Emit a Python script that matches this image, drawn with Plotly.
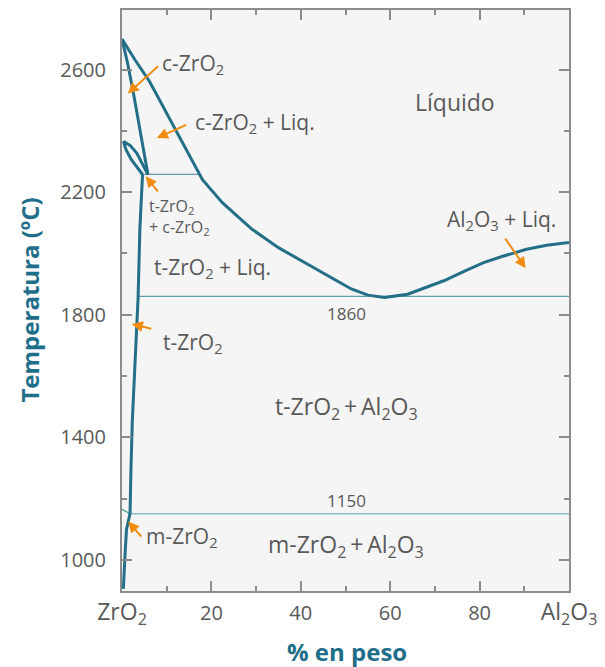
import plotly.graph_objects as go

# ---- data (wt% Al2O3, temperature degC) ----
liq_x = [0, 3, 6.2, 10.6, 14, 16.6, 18.0, 22.5, 29.1, 35.0, 41.0, 46.1, 51.3, 55, 58.7, 63.9, 68, 72, 77, 80.9, 85, 90.5, 95, 100]
liq_T = [2700, 2630, 2561, 2442, 2345, 2279, 2241, 2165, 2079, 2019, 1970, 1927, 1884, 1864, 1856, 1867, 1888, 1911, 1945, 1970, 1990, 2014, 2027, 2036]

csol_x = [0, 1.2, 2.5, 4.2, 5.8]
csol_T = [2700, 2625, 2528, 2390, 2258]

lens_out_x = [0.3, 1.8, 3.3, 4.7, 5.8]
lens_out_T = [2366, 2353, 2328, 2290, 2258]
lens_in_x = [0.3, 0.9, 2.1, 3.6, 4.6]
lens_in_T = [2366, 2339, 2306, 2279, 2258]

tsolv_x = [4.6, 4.2, 4.0, 3.6, 3.3, 2.8, 2.3, 2.0, 1.8]
tsolv_T = [2258, 2150, 2081, 1856, 1759, 1600, 1450, 1293, 1152]

msolv_x = [1.8, 1.0, 0.7, 0.5, 0.3]
msolv_T = [1152, 1098, 1022, 960, 905]

peri_x = [4.6, 17.3]
peri_T = [2258, 2258]
eut_x = [3.6, 100]
eut_T = [1860, 1860]
eutd_x = [1.8, 100]
eutd_T = [1150, 1150]
eutd_left_x = [0, 1.8]
eutd_left_T = [1165, 1150]

x_ticks = [0, 20, 40, 60, 80, 100]
x_ticktext = ["<span style='font-size:23px'>ZrO<sub>2</sub></span>", "20", "40", "60", "80",
              "<span style='font-size:23px'>Al<sub>2</sub>O<sub>3</sub></span>"]
x_minor = [10, 30, 50, 70, 90]
y_ticks = [1000, 1400, 1800, 2200, 2600]
y_minor = [1200, 1600, 2000, 2400]

THICK = "#236f88"
THIN = "#5e9cb0"
LIGHT = "#86bccb"
GRAY = "#595959"
ORANGE = "#f28c0f"
TEAL = "#1f6e8a"
FONT = "Open Sans"
TS = "\u2009"

fig = go.Figure()

def line(x, y, color, width):
    fig.add_trace(go.Scatter(x=x, y=y, mode="lines", line=dict(color=color, width=width),
                             hoverinfo="skip", showlegend=False))

line(peri_x, peri_T, THIN, 1.2)
line(eut_x, eut_T, THIN, 1.2)
line(eutd_x, eutd_T, LIGHT, 1.5)
line(eutd_left_x, eutd_left_T, "#3aa08f", 1.2)
line(liq_x, liq_T, THICK, 3)
line(csol_x, csol_T, THICK, 3)
line(lens_out_x, lens_out_T, THICK, 3)
line(lens_in_x, lens_in_T, THICK, 3)
line(tsolv_x, tsolv_T, THICK, 3)
line(msolv_x, msolv_T, THICK, 3)

def label(x, y, text, size=21, xanchor="left", align="left"):
    fig.add_annotation(x=x, y=y, text=text, showarrow=False, xanchor=xanchor, yanchor="middle",
                       align=align, font=dict(family=FONT, size=size, color=GRAY))

def arrow(x0, y0, x1, y1):
    fig.add_annotation(x=x1, y=y1, ax=x0, ay=y0, axref="x", ayref="y", text="",
                       showarrow=True, arrowhead=2, arrowsize=1.1, arrowwidth=2, arrowcolor=ORANGE)

label(8.6, 2618, "c-ZrO<sub>2</sub>")
arrow(8.4, 2616, 1.3, 2522)
label(15.9, 2425, "c-ZrO<sub>2</sub> + Liq.")
arrow(14.7, 2422, 7.8, 2377)
label(5.5, 2118, "t-ZrO<sub>2</sub><br>+ c-ZrO<sub>2</sub>", size=16)
arrow(8.3, 2198, 5.3, 2252)
label(74.5, 2496, "Líquido", size=23, xanchor="center")
label(72.3, 2108, "Al<sub>2</sub>O<sub>3</sub> + Liq.")
arrow(85.5, 2054, 90.3, 1952)
label(6.8, 1951, "t-ZrO<sub>2</sub> + Liq.")
label(50.2, 1804, "1860", size=17, xanchor="center")
label(8.7, 1707, "t-ZrO<sub>2</sub>")
arrow(6.9, 1753, 2.2, 1770)
label(50.3, 1496, "t-ZrO<sub>2</sub>" + TS + "+" + TS + "Al<sub>2</sub>O<sub>3</sub>", size=23, xanchor="center")
label(50.2, 1192, "1150", size=17, xanchor="center")
label(5.0, 1073, "m-ZrO<sub>2</sub>")
arrow(4.6, 1071, 1.4, 1125)
label(50.2, 1045, "m-ZrO<sub>2</sub>" + TS + "+" + TS + "Al<sub>2</sub>O<sub>3</sub>", size=23, xanchor="center")

fig.add_annotation(x=0.503, y=-0.104, xref="paper", yref="paper", text="<b>% en peso</b>",
                   showarrow=False, xanchor="center", yanchor="middle",
                   font=dict(family=FONT, size=24, color=TEAL))
fig.add_annotation(x=-0.208, y=0.5, xref="paper", yref="paper", text="<b>Temperatura (ºC)</b>",
                   showarrow=False, xanchor="center", yanchor="middle", textangle=-90,
                   font=dict(family=FONT, size=24, color=TEAL))

axis_common = dict(showline=True, linecolor="#8c8c8c", linewidth=2, mirror="ticks",
                   ticks="inside", ticklen=10, tickwidth=1.5, tickcolor="#8c8c8c",
                   showgrid=False, zeroline=False,
                   tickfont=dict(family=FONT, size=20, color=GRAY))

fig.update_xaxes(range=[0, 100], tickmode="array", tickvals=x_ticks, ticktext=x_ticktext,
                 minor=dict(tickmode="array", tickvals=x_minor, ticks="inside", ticklen=5,
                            tickwidth=1.5, tickcolor="#8c8c8c", showgrid=False),
                 ticklabelstandoff=3, **axis_common)
fig.update_yaxes(range=[898, 2795], tickmode="array", tickvals=y_ticks,
                 ticktext=[str(v) for v in y_ticks],
                 minor=dict(tickmode="array", tickvals=y_minor, ticks="inside", ticklen=5,
                            tickwidth=1.5, tickcolor="#8c8c8c", showgrid=False),
                 ticklabelstandoff=10, **axis_common)

fig.update_layout(width=605, height=667, margin=dict(l=122, r=32, t=8, b=76),
                  plot_bgcolor="#f5f5f5", paper_bgcolor="white",
                  font=dict(family=FONT, color=GRAY), showlegend=False)

fig.write_html("out.html")
